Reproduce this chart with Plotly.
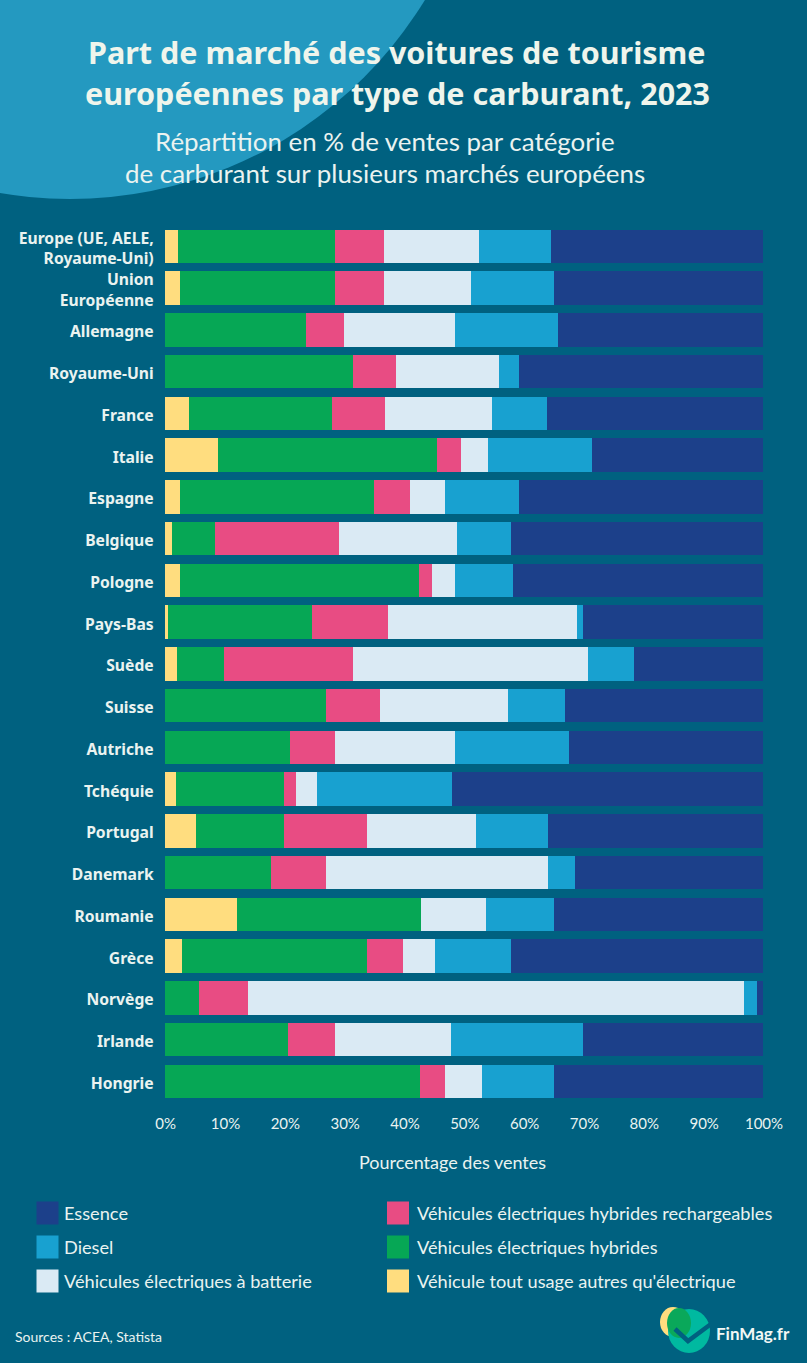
import plotly.graph_objects as go

countries = ["Europe (UE, AELE,<br>Royaume-Uni)", "Union<br>Européenne", "Allemagne", "Royaume-Uni", "France", "Italie",
             "Espagne", "Belgique", "Pologne", "Pays-Bas", "Suède", "Suisse", "Autriche", "Tchéquie", "Portugal",
             "Danemark", "Roumanie", "Grèce", "Norvège", "Irlande", "Hongrie"]

autres =     [2.3, 2.6, 0, 0, 4.1, 8.9, 2.6, 1.2, 2.6, 0.6, 2.1, 0, 0, 1.9, 5.2, 0, 12.0, 2.9, 0, 0, 0]
hybrides =   [26.1, 25.8, 23.6, 31.5, 23.8, 36.6, 32.4, 7.2, 39.9, 24.0, 7.8, 26.9, 20.9, 18.0, 14.7, 17.8, 30.8, 30.9, 5.7, 20.6, 42.7]
rechargeables = [8.3, 8.3, 6.4, 7.1, 9.0, 4.1, 6.0, 20.8, 2.1, 12.8, 21.6, 9.1, 7.5, 2.1, 13.9, 9.1, 0, 6.1, 8.2, 7.8, 4.1]
batterie =   [15.9, 14.5, 18.5, 17.2, 17.8, 4.4, 5.8, 19.7, 3.9, 31.5, 39.2, 21.4, 20.1, 3.5, 18.2, 37.1, 10.9, 5.3, 82.9, 19.4, 6.2]
diesel =     [11.9, 13.8, 17.2, 3.4, 9.2, 17.4, 12.4, 8.9, 9.7, 1.0, 7.8, 9.5, 19.1, 22.6, 12.1, 4.5, 11.3, 12.7, 2.2, 22.1, 12.0]
essence =    [35.5, 35.0, 34.3, 40.8, 36.1, 28.6, 40.8, 42.2, 41.8, 30.1, 21.5, 33.1, 32.4, 51.9, 35.9, 31.5, 35.0, 42.1, 1.0, 30.1, 35.0]

series_names = ["Véhicule tout usage autres qu'électrique", "Véhicules électriques hybrides",
                "Véhicules électriques hybrides rechargeables", "Véhicules électriques à batterie", "Diesel", "Essence"]
series_values = [autres, hybrides, rechargeables, batterie, diesel, essence]
series_colors = ["#FFDD7F", "#06A755", "#E84C83", "#DAEAF4", "#18A1D0", "#1C408A"]

W, H = 807, 1363
BG = "#006180"
TXT = "#EAF3F0"
FONT = "Lato"
BOLD = "Noto Sans"

def px(x): return x / W
def py(y): return 1 - y / H

fig = go.Figure()
for name, vals, col in zip(series_names, series_values, series_colors):
    fig.add_trace(go.Bar(y=countries, x=vals, name=name, orientation="h",
                         marker=dict(color=col, line=dict(width=0)), showlegend=False))

shapes = [dict(type="circle", xref="paper", yref="paper", layer="below",
               x0=px(70 - 416), x1=px(70 + 416), y0=py(-217 + 416), y1=py(-217 - 416),
               fillcolor="#2499C0", line=dict(width=0))]
annotations = []

def text(x, y, s, size, color=TXT, anchor="left", family=FONT):
    annotations.append(dict(xref="paper", yref="paper", x=px(x), y=py(y), text=s, showarrow=False,
                            xanchor=anchor, yanchor="middle", font=dict(family=family, size=size, color=color)))

text(397, 52, "<b>Part de marché des voitures de tourisme</b>", 30.5, "#EFF5EC", "center", BOLD)
text(397, 93, "<b>européennes par type de carburant, 2023</b>", 30.5, "#EFF5EC", "center", BOLD)
text(385, 141, "Répartition en % de ventes par catégorie", 25.9, TXT, "center")
text(385, 173, "de carburant sur plusieurs marchés européens", 25.9, TXT, "center")
text(452, 1162, "Pourcentage des ventes", 18, TXT, "center")
text(13, 1336, "Sources : ACEA, Statista", 14)

# légende : (indice de série, x carré, y centre)
legend_layout = [(5, 36.5, 1213), (4, 36.5, 1247), (3, 36.5, 1281), (2, 387, 1213), (1, 387, 1247), (0, 387, 1281)]
for i, lx, ly in legend_layout:
    shapes.append(dict(type="rect", xref="paper", yref="paper", x0=px(lx), x1=px(lx + 22),
                       y0=py(ly + 11.5), y1=py(ly - 11.5), fillcolor=series_colors[i], line=dict(width=0)))
    text(lx + (25.5 if lx < 100 else 28), ly, series_names[i], 18.2)

# logo
def circle(cx, cy, rx, ry, col):
    shapes.append(dict(type="circle", xref="paper", yref="paper", x0=px(cx - rx), x1=px(cx + rx),
                       y0=py(cy + ry), y1=py(cy - ry), fillcolor=col, line=dict(width=0)))
circle(673, 1322, 13, 15, "#FFDD7F")
circle(689, 1331, 21, 22, "#00B9A0")
circle(679, 1323, 12, 15, "#0AA85A")
path = f"M {px(675)} {py(1329)} L {px(688)} {py(1341)} L {px(711)} {py(1324)}"
shapes.append(dict(type="path", xref="paper", yref="paper", path=path, line=dict(color=BG, width=4.5)))
text(714, 1333, "<b>FinMag.fr</b>", 17, "#F2F7F5")

bw = 41.73
fig.update_layout(
    width=W, height=H, margin=dict(l=0, r=0, t=0, b=0, autoexpand=False),
    paper_bgcolor=BG, plot_bgcolor=BG, barmode="stack", bargap=0.2,
    font=dict(family=FONT, color=TXT), shapes=shapes, annotations=annotations,
    xaxis=dict(domain=[px(164.7), px(763)], range=[0, 100], tickvals=list(range(0, 101, 10)),
               ticktext=[f"{v}%" for v in range(0, 101, 10)], showgrid=False, zeroline=False, showline=False,
               ticks="", tickfont=dict(family=FONT, size=15, color=TXT), ticklabelstandoff=11, ticklabelshift=1,
               automargin=False),
    yaxis=dict(domain=[py(1098 + bw * 0.1), py(229.7 - bw * 0.1)], autorange="reversed", showgrid=False,
               zeroline=False, showline=False, ticks="", ticklabelstandoff=10, ticklabelshift=-2, automargin=False,
               tickfont=dict(family=BOLD, size=15.7, color=TXT, weight="bold")),
)
fig.write_html("out.html", config={"displayModeBar": False}, post_script="document.body.style.margin='0';")
